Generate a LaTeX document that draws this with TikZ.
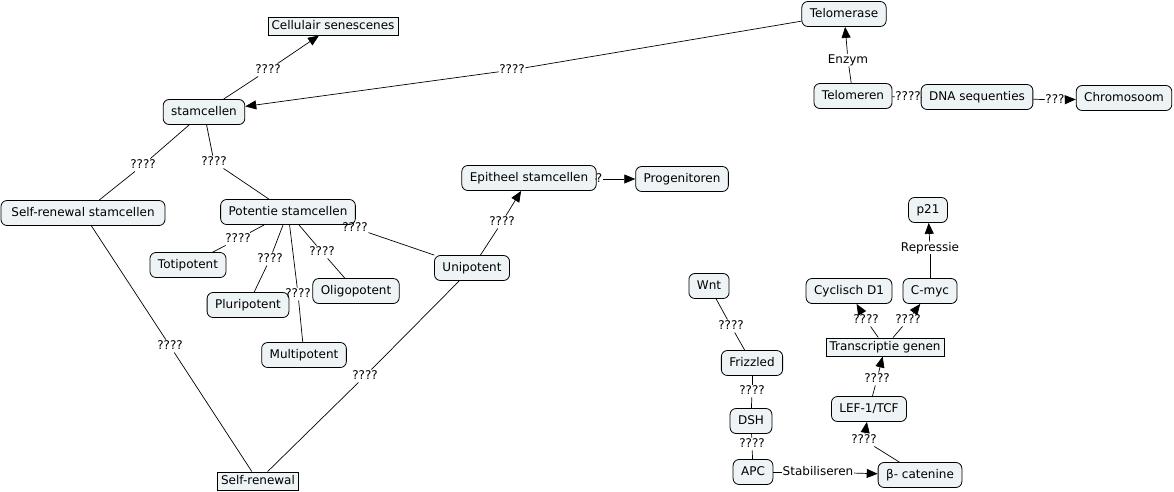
\documentclass[tikz,border=0pt]{standalone}
\usepackage{fontspec}
\setmainfont{DejaVu Sans}
\usetikzlibrary{arrows.meta}
\definecolor{cfill}{HTML}{EEF3F5}
\begin{document}
\begin{tikzpicture}[x=1pt,y=-1pt,
  every node/.style={font=\fontsize{12}{14}\selectfont, text height=9pt, text depth=2.5pt},
  rbox/.style={draw=black, fill=cfill, rounded corners=6pt, inner xsep=8pt, minimum height=25pt, line width=0.8pt},
  sbox/.style={draw=black, fill=cfill, inner xsep=3.5pt, minimum height=18pt, line width=0.8pt},
  lbl/.style={inner sep=0.5pt},
  ln/.style={draw=black, line width=0.7pt},
  arr/.style={ln, -{Triangle[length=11pt,width=9pt]}}]
\useasboundingbox (0,0) rectangle (1174,491);
\fill[white] (0,0) rectangle (1174,491);
% nodes
\node[sbox] (cellsen) at (333,26) {Cellulair senescenes};
\node[rbox] (telomerase) at (844,14) {Telomerase};
\node[rbox] (stam) at (204,112) {stamcellen};
\node[rbox] (telomeren) at (853,96) {Telomeren};
\node[rbox] (dna) at (977,97) {DNA sequenties};
\node[rbox] (chromo) at (1124,98) {Chromosoom};
\node[rbox, minimum width=164pt] (srs) at (83,213) {Self-renewal stamcellen};
\node[rbox] (pot) at (288,212) {Potentie stamcellen};
\node[rbox] (epi) at (529,178) {Epitheel stamcellen};
\node[rbox] (prog) at (682,179) {Progenitoren};
\node[rbox] (toti) at (188,265) {Totipotent};
\node[rbox] (pluri) at (248,305) {Pluripotent};
\node[rbox] (oligo) at (356,291) {Oligopotent};
\node[rbox] (multi) at (304,355) {Multipotent};
\node[rbox] (uni) at (472,268) {Unipotent};
\node[sbox] (sr) at (258,481) {Self-renewal};
\node[rbox] (p21) at (928,210) {p21};
\node[rbox] (wnt) at (709,286) {Wnt};
\node[rbox] (cyc) at (849,291) {Cyclisch D1};
\node[rbox] (cmyc) at (930,291) {C-myc};
\node[sbox] (trans) at (885,347) {Transcriptie genen};
\node[rbox] (friz) at (752,363) {Frizzled};
\node[rbox] (lef) at (869,409) {LEF-1/TCF};
\node[rbox] (dsh) at (751,421) {DSH};
\node[rbox] (apc) at (753,472) {APC};
\node[rbox] (cat) at (920,475) {β- catenine};
% labels
\node[lbl] (l1) at (268,70) {????};
\node[lbl] (l2) at (512,70) {????};
\node[lbl] (l3) at (848,60) {Enzym};
\node[lbl] (l4) at (908,97) {????};
\node[lbl] (l5) at (1055,100) {???};
\node[lbl] (l6) at (143,165) {????};
\node[lbl] (l7) at (214,162) {????};
\node[lbl] (l8) at (599,179) {?};
\node[lbl] (l9) at (502,222) {????};
\node[lbl] (l10) at (238,239) {????};
\node[lbl] (l11) at (270,259) {????};
\node[lbl] (l12) at (322,252) {????};
\node[lbl] (l13) at (298,294) {????};
\node[lbl] (l14) at (355,228) {????};
\node[lbl] (l15) at (170,346) {????};
\node[lbl] (l16) at (365,376) {????};
\node[lbl] (l17) at (731,326) {????};
\node[lbl] (l18) at (752,391) {????};
\node[lbl] (l19) at (752,444) {????};
\node[lbl] (l20) at (818,472) {Stabiliseren};
\node[lbl] (l21) at (864,440) {????};
\node[lbl] (l22) at (877,379) {????};
\node[lbl] (l23) at (866,320) {????};
\node[lbl] (l24) at (908,320) {????};
\node[lbl] (l25) at (930,248) {Repressie};
% connectors
\draw[ln] (stam) -- (l1); \draw[arr] (l1) -- (cellsen);
\draw[ln] (telomerase) -- (l2); \draw[arr] (l2) -- (stam);
\draw[ln] (telomeren) -- (l3); \draw[arr] (l3) -- (telomerase);
\draw[ln] (telomeren) -- (l4); \draw[ln] (l4) -- (dna);
\draw[ln] (dna) -- (l5); \draw[arr] (l5) -- (chromo);
\draw[ln] (stam) -- (l6); \draw[ln] (l6) -- (srs);
\draw[ln] (stam) -- (l7); \draw[ln] (l7) -- (pot);
\draw[ln] (epi) -- (l8); \draw[arr] (l8) -- (prog);
\draw[ln] (uni) -- (l9); \draw[arr] (l9) -- (epi);
\draw[ln] (pot) -- (l10); \draw[ln] (l10) -- (toti);
\draw[ln] (pot) -- (l11); \draw[ln] (l11) -- (pluri);
\draw[ln] (pot) -- (l12); \draw[ln] (l12) -- (oligo);
\draw[ln] (pot) -- (l13); \draw[ln] (l13) -- (multi);
\draw[ln] (pot) -- (l14); \draw[ln] (l14) -- (uni);
\draw[ln] (srs) -- (l15); \draw[ln] (l15) -- (sr);
\draw[ln] (uni) -- (l16); \draw[ln] (l16) -- (sr);
\draw[ln] (wnt) -- (l17); \draw[ln] (l17) -- (friz);
\draw[ln] (friz) -- (l18); \draw[ln] (l18) -- (dsh);
\draw[ln] (dsh) -- (l19); \draw[ln] (l19) -- (apc);
\draw[ln] (apc) -- (l20); \draw[arr] (l20) -- (cat);
\draw[ln] (cat) -- (l21); \draw[arr] (l21) -- (lef);
\draw[ln] (lef) -- (l22); \draw[arr] (l22) -- (trans);
\draw[ln] (trans) -- (l23); \draw[arr] (l23) -- (cyc);
\draw[ln] (trans) -- (l24); \draw[arr] (l24) -- (cmyc);
\draw[ln] (cmyc) -- (l25); \draw[arr] (l25) -- (p21);
\end{tikzpicture}
\end{document}
